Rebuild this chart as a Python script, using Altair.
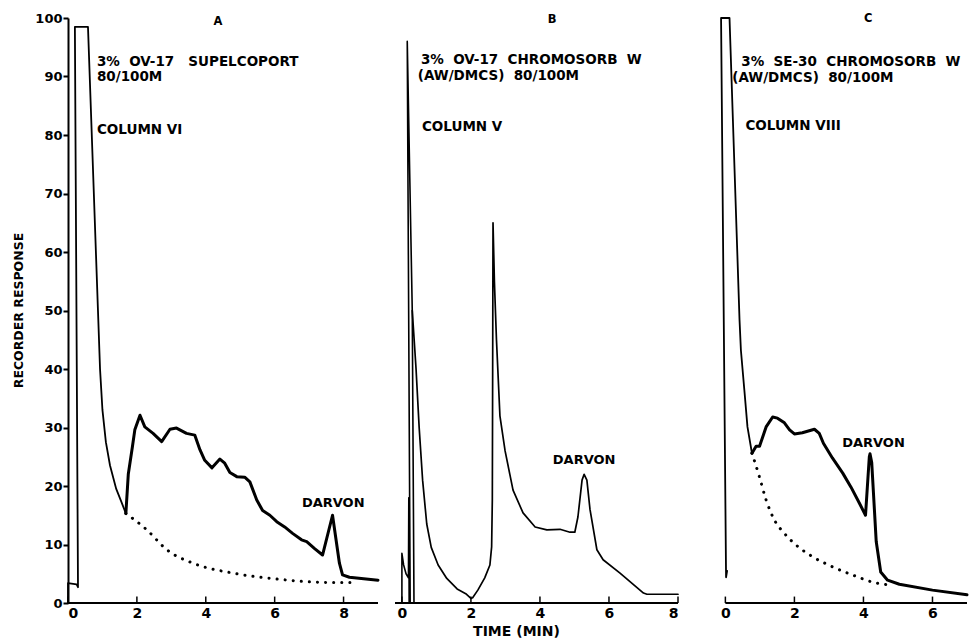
import altair as alt
import pandas as pd

FONT = "DejaVu Sans"

# ---------------- Panel A : 3% OV-17 Supelcoport, column VI ----------------
A_thin_x = [0.0, 0.0, 0.25, 0.29, 0.20, 0.58, 0.87, 0.93, 1.00, 1.10, 1.22, 1.40, 1.55, 1.68]
A_thin_y = [0.0, 3.4, 3.2, 2.7, 98.5, 98.5, 50.0, 40.0, 33.0, 27.5, 23.5, 19.5, 17.3, 15.3]
A_thick_x = [1.68, 1.75, 1.87, 1.94, 2.09, 2.23, 2.47, 2.72, 2.96, 3.15, 3.44, 3.68, 3.83, 3.97,
             4.18, 4.41, 4.55, 4.70, 4.90, 5.13, 5.28, 5.48, 5.65, 5.86, 6.06, 6.29, 6.52, 6.78,
             6.93, 7.16, 7.39, 7.68, 7.88, 7.97, 8.17, 9.00]
A_thick_y = [15.3, 22.0, 26.7, 29.6, 32.1, 30.1, 29.0, 27.6, 29.7, 29.9, 29.0, 28.7, 26.2, 24.4,
             23.1, 24.6, 23.9, 22.3, 21.6, 21.5, 20.7, 17.6, 15.8, 15.0, 13.9, 13.0, 11.9, 10.8,
             10.5, 9.3, 8.2, 15.0, 6.8, 4.8, 4.4, 3.9]
A_dot_x = [1.68, 2.29, 2.87, 3.63, 4.80, 6.06, 7.60, 8.25]
A_dot_y = [15.3, 12.5, 9.1, 6.8, 5.1, 4.1, 3.5, 3.5]

# ---------------- Panel B : 3% OV-17 Chromosorb W, column V ----------------
B_main_x = [0.0, 0.0, 0.05, 0.12, 0.19, 0.20, 0.21, 0.24, 0.155, 0.30, 0.35]
B_main_y = [0.0, 8.5, 6.5, 5.0, 4.3, 18.0, 0.0, 0.0, 96.0, 50.0, 0.0]
B_tail_x = [0.30, 0.41, 0.50, 0.60, 0.72, 0.85, 1.05, 1.30, 1.60, 1.85, 2.00, 2.05, 2.20, 2.40,
            2.55, 2.60, 2.62, 2.63, 2.64, 2.68, 2.74, 2.84, 2.99, 3.22, 3.51, 3.86, 4.20, 4.58,
            4.87, 5.01, 5.10, 5.22, 5.28, 5.36, 5.45, 5.65, 5.83, 6.32, 7.00, 7.10, 8.00]
B_tail_y = [50.0, 40.0, 30.0, 21.0, 13.5, 9.5, 6.5, 4.2, 2.4, 1.6, 0.8, 0.9, 2.2, 4.3,
            6.5, 9.6, 17.6, 40.0, 65.0, 55.0, 45.0, 32.0, 26.0, 19.3, 15.4, 13.0, 12.5, 12.6,
            12.1, 12.1, 14.7, 21.0, 22.0, 21.0, 16.0, 9.1, 7.4, 5.1, 1.7, 1.5, 1.5]

# ---------------- Panel C : 3% SE-30 Chromosorb W, column VIII ----------------
C_thin_x = [0.05, 0.02, -0.125, 0.12, 0.41, 0.45, 0.55, 0.64, 0.77]
C_thin_y = [5.5, 4.4, 100.0, 100.0, 48.4, 43.2, 36.4, 30.1, 25.6]
C_thick_x = [0.77, 0.89, 0.99, 1.18, 1.37, 1.51, 1.71, 1.86, 2.00, 2.23, 2.58, 2.72, 2.84, 3.10,
             3.40, 3.64, 3.88, 4.06, 4.17, 4.19, 4.24, 4.37, 4.50, 4.70, 5.04, 6.00, 7.00]
C_thick_y = [25.6, 26.8, 26.8, 30.1, 31.8, 31.6, 30.8, 29.6, 28.9, 29.1, 29.7, 29.0, 27.3, 24.8,
             22.2, 19.8, 17.1, 15.0, 25.0, 25.5, 24.0, 10.5, 5.3, 3.9, 3.2, 2.2, 1.4]
C_dot_x = [0.77, 0.99, 1.18, 1.42, 1.71, 2.05, 2.53, 3.10, 3.68, 4.38, 4.75]
C_dot_y = [25.6, 21.5, 17.6, 14.2, 11.9, 9.9, 7.9, 6.2, 4.8, 3.4, 3.1]

# ---------------- axes / labels ----------------
Y_TICKS = [0, 10, 20, 30, 40, 50, 60, 70, 80, 90, 100]
A_TICKS = [0, 2, 4, 6, 8]
B_TICKS = [0, 2, 4, 6, 8]
C_TICKS = [0, 2, 4, 6]
A_DOMAIN = [0, 9]
B_DOMAIN = [-0.2, 8]
C_DOMAIN = [-0.88, 7]
A_BASE = [0, 9]
B_BASE = [-0.2, 8]
C_BASE = [0, 7]

NB = "\u00a0"
A_text = ["A", f"3%{NB}{NB}OV-17{NB}{NB}{NB}SUPELCOPORT", "80/100M", f"COLUMN{NB}VI", "DARVON"]
A_tx = [4.35, 0.84, 0.84, 0.84, 7.70]
A_ty = [99.3, 92.5, 89.9, 80.9, 17.1]
B_text = ["B", f"3%{NB}{NB}OV-17{NB}{NB}CHROMOSORB{NB}{NB}W", f"(AW/DMCS){NB}{NB}80/100M", f"COLUMN{NB}V", "DARVON"]
B_tx = [4.35, 0.55, 0.46, 0.58, 5.28]
B_ty = [99.6, 92.8, 90.1, 81.4, 24.4]
C_text = ["C", f"3%{NB}{NB}SE-30{NB}{NB}CHROMOSORB{NB}{NB}W", f"(AW/DMCS){NB}{NB}80/100M", f"COLUMN{NB}VIII", "DARVON"]
C_tx = [4.14, 0.46, 0.20, 0.58, 4.29]
C_ty = [99.8, 92.5, 89.7, 81.5, 27.3]
TEXT_ALIGN = ["center", "left", "left", "left", "center"]
TEXT_SIZE = [11.5, 13.5, 13.5, 13.5, 13]

PLOT_H = 585


def seg_df(parts):
    rows = []
    for name, xs, ys, w in parts:
        for i, (x, y) in enumerate(zip(xs, ys)):
            rows.append({"x": x, "y": y, "seg": name, "w": w, "i": i})
    return pd.DataFrame(rows)


def panel(domain, width, solid_parts, dot_parts, base, ticks, texts, tx, ty,
          with_yaxis=False, xtitle=None):
    xaxis_kw = dict(values=ticks, domain=False, ticks=False, tickSize=0, grid=False,
                    labelPadding=3, labelFontSize=14, labelFontWeight="bold",
                    labelColor="black", labelFont=FONT)
    if xtitle:
        xaxis_kw.update(title=xtitle, titleFontSize=14, titleFontWeight="bold",
                        titleFont=FONT, titleColor="black", titleX=121, titleY=32,
                        titleAlign="center", titleBaseline="alphabetic")
    else:
        xaxis_kw.update(title=None)
    X = alt.X("x:Q", scale=alt.Scale(domain=domain, nice=False, zero=False),
              axis=alt.Axis(**xaxis_kw))
    yscale = alt.Scale(domain=[0, 100], nice=False, zero=True)
    if with_yaxis:
        Y = alt.Y("y:Q", scale=yscale, axis=alt.Axis(
            values=Y_TICKS, domain=True, domainColor="black", domainWidth=2,
            ticks=True, tickSize=5, tickWidth=2, tickColor="black", grid=False,
            labelPadding=1, labelFontSize=13, labelFontWeight="bold",
            labelColor="black", labelFont=FONT,
            title="RECORDER RESPONSE", titleFontSize=12.5, titleFontWeight="bold",
            titleFont=FONT, titleColor="black", titleAngle=270, titleX=-50,
            titleY=292, titleAlign="center", titleBaseline="middle"))
    else:
        Y = alt.Y("y:Q", scale=yscale, axis=None)

    solid = alt.Chart(seg_df(solid_parts)).mark_line(
        color="black", strokeJoin="round", strokeCap="round"
    ).encode(x=X, y=Y, detail="seg:N", order="i:Q",
             strokeWidth=alt.StrokeWidth("w:Q", scale=None))

    layers = [solid]
    if dot_parts:
        dots = alt.Chart(seg_df(dot_parts)).mark_line(
            color="black", strokeDash=[0.1, 8], strokeWidth=3, strokeCap="round",
            interpolate="monotone"
        ).encode(x=X, y=Y, order="i:Q")
        layers.append(dots)

    base_df = pd.DataFrame({"x": [base[0]], "x2": [base[1]], "y": [0]})
    layers.append(alt.Chart(base_df).mark_rule(color="black", strokeWidth=2).encode(
        x=X, x2="x2:Q", y=Y))

    tick_df = pd.DataFrame({"x": ticks, "y": [0] * len(ticks), "y2": [1.1] * len(ticks)})
    layers.append(alt.Chart(tick_df).mark_rule(color="black", strokeWidth=1.5).encode(
        x=X, y=Y, y2="y2:Q"))

    tdf = pd.DataFrame({"x": tx, "y": ty, "text": texts, "align": TEXT_ALIGN, "fs": TEXT_SIZE})
    for al in ["left", "center"]:
        sub = tdf[tdf["align"] == al]
        layers.append(alt.Chart(sub).mark_text(
            align=al, baseline="middle", font=FONT, fontWeight="bold", color="black"
        ).encode(x=X, y=Y, text="text:N", size=alt.Size("fs:Q", scale=None)))

    return alt.layer(*layers).properties(width=width, height=PLOT_H)


pA = panel(A_DOMAIN, 310,
           [("a1", A_thin_x, A_thin_y, 1.8), ("a2", A_thick_x, A_thick_y, 3.0)],
           [("ad", A_dot_x, A_dot_y, 3)], A_BASE, A_TICKS, A_text, A_tx, A_ty,
           with_yaxis=True)
pB = panel(B_DOMAIN, 283,
           [("b1", B_main_x, B_main_y, 1.6), ("b2", B_tail_x, B_tail_y, 1.7)],
           None, B_BASE, B_TICKS, B_text, B_tx, B_ty, xtitle="TIME (MIN)")
pC = panel(C_DOMAIN, 272,
           [("c1", C_thin_x, C_thin_y, 1.8), ("c2", C_thick_x, C_thick_y, 3.0)],
           [("cd", C_dot_x, C_dot_y, 3)], C_BASE, C_TICKS, C_text, C_tx, C_ty)

chart = alt.hconcat(pA, pB, pC, spacing=17, bounds="flush").properties(
    padding={"left": 12, "top": 12, "right": 0, "bottom": 0},
    background="white"
).configure_view(stroke=None)

chart.save("out.html", embed_options={"renderer": "svg", "actions": False})
